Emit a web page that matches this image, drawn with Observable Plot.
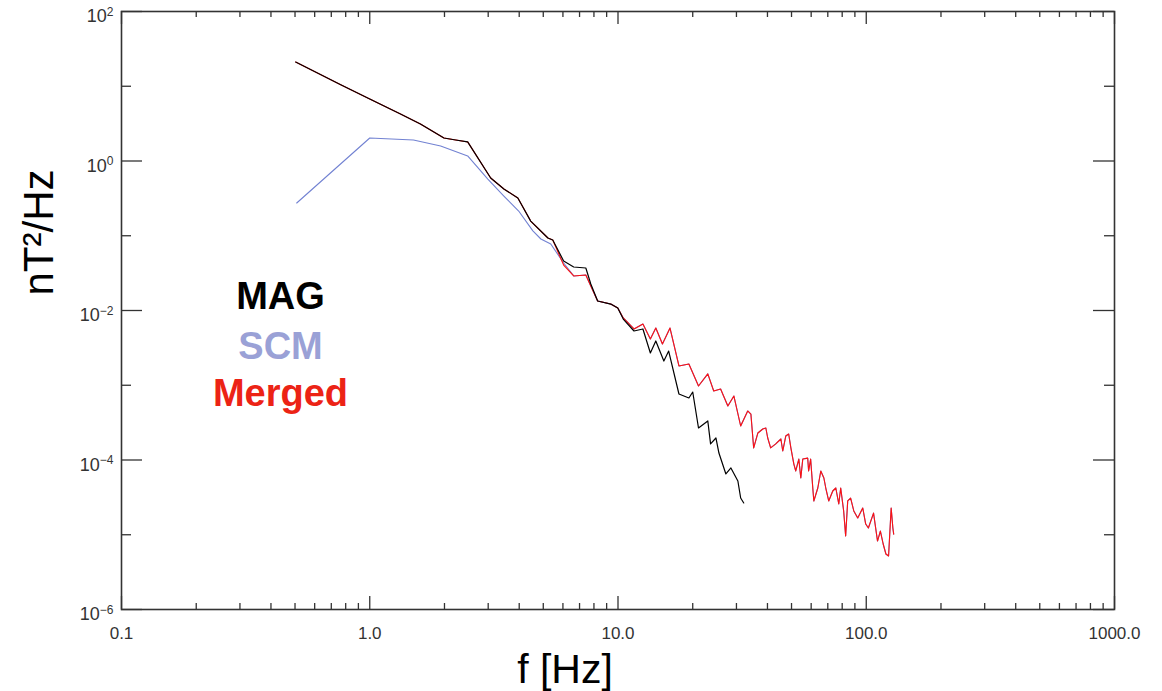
<!DOCTYPE html>
<html><head><meta charset="utf-8">
<script src="https://cdn.jsdelivr.net/npm/d3@7"></script>
<script src="https://cdn.jsdelivr.net/npm/@observablehq/plot@0.6"></script>
<style>body{margin:0;background:#fff;}#chart svg{display:block;}</style>
</head><body><div id="chart"></div>
<script>
// MAG spectrum (black)
const magF = [0.503, 0.764, 1.0, 1.33, 1.60, 1.99, 2.22, 2.48, 3.07, 3.47, 3.95, 4.45, 5.22, 5.46, 6.04, 6.63, 7.42, 7.77, 8.28, 9.35, 9.98, 10.5, 11.6, 12.6, 13.5, 14.2, 15.3, 16.0, 17.6, 19.3, 20.0, 21.1, 23.0, 23.6, 24.8, 25.5, 27.2, 28.5, 30.4, 31.2, 32.1];
const magP = [21.1, 10.5, 6.75, 4.25, 3.13, 2.03, 1.91, 1.80, 0.593, 0.422, 0.320, 0.157, 0.0933, 0.0877, 0.0459, 0.0382, 0.0370, 0.0226, 0.0134, 0.0122, 0.0108, 0.00769, 0.00532, 0.00566, 0.00270, 0.00391, 0.00211, 0.00287, 0.000764, 0.000675, 0.000812, 0.000268, 0.000333, 0.000164, 0.000197, 0.000124, 6.50e-5, 7.82e-5, 5.24e-5, 3.10e-5, 2.66e-5];

// SCM spectrum (blue), low-frequency part where it differs from the merged curve
const scmF = [0.508, 1.0, 1.50, 1.93, 2.48, 2.99, 3.47, 3.98, 4.54, 4.89, 5.36, 6.04];
const scmP = [0.274, 2.03, 1.91, 1.59, 1.17, 0.574, 0.340, 0.214, 0.116, 0.0905, 0.0776, 0.0432];

// Merged spectrum (red) above the crossover (below it, it follows MAG)
const mergedF = [6.04, 6.63, 7.42, 7.77, 8.28, 9.35, 9.98, 10.5, 11.6, 12.6, 13.5, 14.2, 15.1, 16.2, 17.6, 19.3, 21.1, 23.0, 24.3, 25.9, 27.7, 29.3, 31.2, 33.3,
  34.3, 35.2, 36.6, 38.3, 39.4, 40.1, 41.2, 43.2, 45.3, 46.1, 47.4, 48.7, 49.7, 51.1, 52.0, 53.5, 54.5, 55.5, 58.1, 58.6, 59.7, 60.9, 61.5, 63.8, 65.6, 67.5, 68.7, 70.6, 73.3, 75.4, 77.5, 78.9, 81.1, 82.6, 84.2, 86.5, 89.1, 92.4, 96.8, 99.5, 102, 107, 111, 114, 117, 120, 123, 126, 128, 129];
const mergedP = [0.0406, 0.0290, 0.0299, 0.0213, 0.0134, 0.0122, 0.0108, 0.00794, 0.00566, 0.00660, 0.00415, 0.00583, 0.00356, 0.00583, 0.00181, 0.00192, 0.000977, 0.00142, 0.000838, 0.000891, 0.000527, 0.000718, 0.000285, 0.000453,
  4.12e-4, 1.45e-4, 2.30e-4, 2.60e-4, 2.68e-4, 1.97e-4, 1.45e-4, 1.64e-4, 1.91e-4, 1.32e-4, 2.09e-4, 2.23e-4, 1.45e-4, 8.83e-5, 7.13e-5, 1.03e-4, 5.74e-5, 1.03e-4, 1.06e-4, 7.13e-5, 1.03e-4, 4.22e-5, 2.83e-5, 4.22e-5, 7.13e-5, 5.74e-5, 4.22e-5, 2.83e-5, 3.85e-5, 4.22e-5, 2.58e-5, 4.22e-5, 2.08e-5, 9.62e-6, 2.83e-5, 3.10e-5, 2.08e-5, 1.68e-5, 2.28e-5, 1.39e-5, 1.23e-5, 1.95e-5, 8.24e-6, 1.12e-5, 7.52e-6, 5.53e-6, 5.20e-6, 2.28e-5, 1.23e-5, 1.02e-5];

// Axis ticks and labels
const xMajor = [0.1, 1, 10, 100, 1000];
const xTickLabels = ["0.1", "1.0", "10.0", "100.0", "1000.0"];
const xMinor = [0.1, 1, 10, 100].flatMap(d => [2,3,4,5,6,7,8,9].map(k => k * d));
const yMajor = [1e2, 1, 1e-2, 1e-4, 1e-6];
const yTickExponents = ["2", "0", "\u22122", "\u22124", "\u22126"];
const yMinor = [1e1, 1e-1, 1e-3, 1e-5];

const legendLabels = ["MAG", "SCM", "Merged"];
const legendColors = ["#000000", "#9aa1d6", "#ec2315"];

const toRows = (F, P) => F.map((f, i) => ({f, p: P[i]}));
const mag = toRows(magF, magP);
const mergedHigh = toRows(mergedF, mergedP);
const merged = mag.filter(d => d.f < mergedF[0]).concat(mergedHigh);
const scm = toRows(scmF, scmP).concat(mergedHigh.filter(d => d.f > scmF[scmF.length - 1]));

const W = 1162, H = 691, mL = 121, mR = 48, mT = 11, mB = 82;
const iw = W - mL - mR, ih = H - mT - mB;
const axisColor = "#333";

const plot = Plot.plot({
  width: W, height: H,
  marginLeft: mL, marginRight: mR, marginTop: mT, marginBottom: mB,
  style: {fontFamily: "'Liberation Sans', Arial, sans-serif", background: "#fff", overflow: "visible"},
  x: {type: "log", domain: [0.1, 1000]},
  y: {type: "log", domain: [1e-6, 1e2]},
  marks: [
    // ticks (inward, on all four sides)
    Plot.tickX(xMajor, {x: d => d, insetTop: ih - 13, stroke: axisColor, strokeWidth: 1.3}),
    Plot.tickX(xMinor, {x: d => d, insetTop: ih - 6, stroke: axisColor, strokeWidth: 1.3}),
    Plot.tickX(xMajor, {x: d => d, insetBottom: ih - 13, stroke: axisColor, strokeWidth: 1.3}),
    Plot.tickX(xMinor, {x: d => d, insetBottom: ih - 6, stroke: axisColor, strokeWidth: 1.3}),
    Plot.tickY(yMajor, {y: d => d, insetRight: iw - 21, stroke: axisColor, strokeWidth: 1.3}),
    Plot.tickY(yMinor, {y: d => d, insetRight: iw - 10, stroke: axisColor, strokeWidth: 1.3}),
    Plot.tickY(yMajor, {y: d => d, insetLeft: iw - 21, stroke: axisColor, strokeWidth: 1.3}),
    Plot.tickY(yMinor, {y: d => d, insetLeft: iw - 10, stroke: axisColor, strokeWidth: 1.3}),
    Plot.frame({stroke: axisColor, strokeWidth: 1.6}),
    // tick labels
    Plot.axisX(xMajor, {anchor: "bottom", tickSize: 0, tickPadding: 17, label: null,
      tickFormat: d => xTickLabels[xMajor.indexOf(d)], fontSize: 17, color: "#333"}),
    Plot.axisY(yMajor, {anchor: "left", tickSize: 0, tickPadding: 8, label: null, dy: 5,
      tickFormat: d => "10^" + yTickExponents[yMajor.indexOf(d)], fontSize: 18, color: "#333"}),
    // spectra
    Plot.line(scm, {x: "f", y: "p", stroke: "#7282d2", strokeWidth: 1.1}),
    Plot.line(merged, {x: "f", y: "p", stroke: "#ff1010", strokeWidth: 1.1}),
    Plot.line(mag, {x: "f", y: "p", stroke: "#000", strokeWidth: 1.2}),
    // axis titles
    Plot.text(["f [Hz]"], {frameAnchor: "bottom", dx: -53, dy: 73, fontSize: 41, letterSpacing: 3.5, fill: "#000"}),
    Plot.text(["nT\u00B2/Hz"], {frameAnchor: "left", textAnchor: "middle", dx: -82, dy: -78, rotate: -90, fontSize: 42, letterSpacing: 6, fill: "#000"}),
    // legend
    ...legendLabels.map((t, i) => Plot.text([t], {frameAnchor: "top-left", dx: 159, dy: [271, 321, 368][i],
      fontSize: 38, fontWeight: "bold", fill: legendColors[i], textAnchor: "middle", letterSpacing: 4})),
  ]
});

// render y tick labels as 10 with a raised exponent
const ns = "http://www.w3.org/2000/svg";
plot.querySelectorAll("text").forEach(t => {
  if (!t.textContent.includes("^")) return;
  const [base, exp] = t.textContent.split("^");
  t.textContent = "";
  const a = document.createElementNS(ns, "tspan");
  a.textContent = base;
  const b = document.createElementNS(ns, "tspan");
  b.textContent = exp;
  b.setAttribute("dy", "-0.55em");
  b.setAttribute("font-size", "12");
  t.append(a, b);
});
document.getElementById("chart").append(plot);
</script>
</body></html>
